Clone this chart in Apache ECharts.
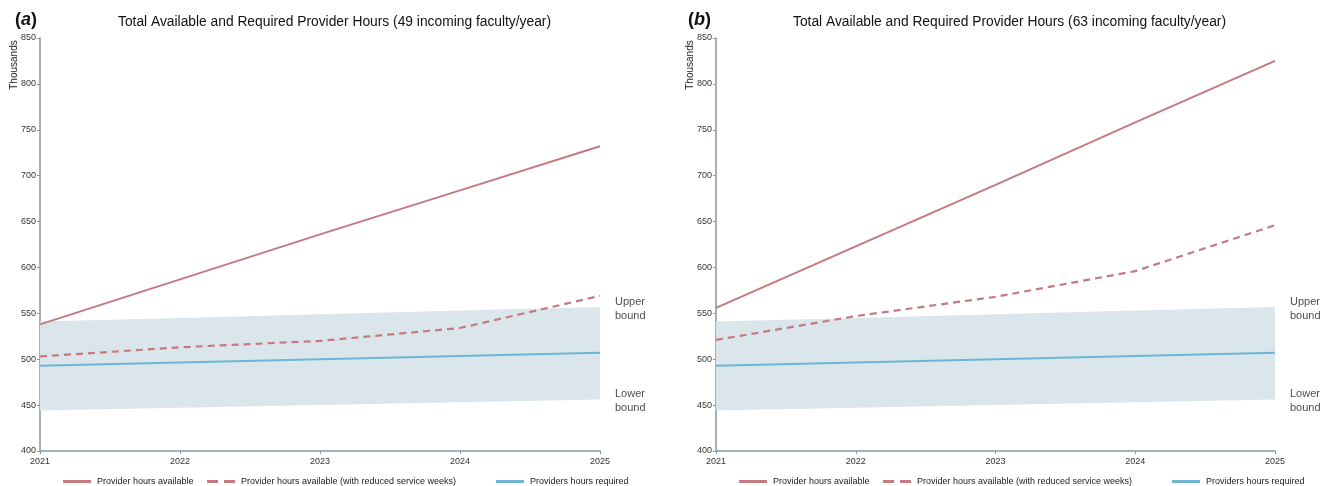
<!DOCTYPE html>
<html><head><meta charset="utf-8">
<script src="https://cdn.jsdelivr.net/npm/echarts@6/dist/echarts.min.js"></script>
<style>html,body{margin:0;padding:0;background:#fff}#c{width:1331px;height:486px}</style>
</head><body><div id="c"></div>
<script>
const years = ['2021','2022','2023','2024','2025'];
const yTicks = [400,450,500,550,600,650,700,750,800,850];
// Panel a (49 incoming faculty/year)
const availA = [538, 587, 636, 684, 732];
const reducedA = [503, 513, 520, 534, 569];
// Panel b (63 incoming faculty/year)
const availB = [556, 623, 690, 758, 825];
const reducedB = [521, 547, 568, 596, 646];
// Shared
const required = [493, 496.5, 500, 503.5, 507];
const lowerBound = [444, 447, 450, 453, 456];
const upperBound = [541, 545, 549, 553, 557];

const RED = '#c47a7e', BLUE = '#6cb6d3', BAND = '#dbe6ec', AXIS = '#8597a8';
const FONT = 'Liberation Sans';
const bandDiff = upperBound.map((u,i)=>+(u-lowerBound[i]).toFixed(2));

function grid(left, right){ return {left, right, top:38, bottom:35, containLabel:false}; }
function xAxis(i){ return {type:'category', gridIndex:i, data:years, boundaryGap:false,
  axisLine:{lineStyle:{color:AXIS,width:1.5}}, axisTick:{show:true, alignWithLabel:true, length:3, lineStyle:{color:AXIS}},
  axisLabel:{color:'#333', fontSize:9, fontFamily:FONT, margin:6}, splitLine:{show:false}}; }
function yAxis(i){ return {type:'value', gridIndex:i, min:yTicks[0], max:yTicks[yTicks.length-1], interval:50,
  axisLine:{show:true, lineStyle:{color:AXIS,width:1.5}}, axisTick:{show:true, length:3, lineStyle:{color:AXIS}},
  axisLabel:{color:'#333', fontSize:9, fontFamily:FONT, margin:4}, splitLine:{show:false}}; }

function panelSeries(i, avail, reduced){
  return [
    {type:'line', name:'lowerBase'+i, xAxisIndex:i, yAxisIndex:i, data:lowerBound, stack:'band'+i, symbol:'none',
      lineStyle:{opacity:0}, silent:true, z:1},
    {type:'line', name:'band'+i, xAxisIndex:i, yAxisIndex:i, data:bandDiff, stack:'band'+i, symbol:'none',
      lineStyle:{opacity:0}, areaStyle:{color:BAND, opacity:1}, silent:true, z:1},
    {type:'line', name:'Provider hours available', xAxisIndex:i, yAxisIndex:i, data:avail, symbol:'none',
      lineStyle:{color:RED, width:2}, itemStyle:{color:RED}, z:3},
    {type:'line', name:'Provider hours available (with reduced service weeks)', xAxisIndex:i, yAxisIndex:i, data:reduced, symbol:'none',
      lineStyle:{color:RED, width:2.2, type:[7,5]}, itemStyle:{color:RED}, z:3},
    {type:'line', name:'Providers hours required', xAxisIndex:i, yAxisIndex:i, data:required, symbol:'none',
      lineStyle:{color:BLUE, width:2}, itemStyle:{color:BLUE}, z:3},
    {type:'scatter', name:'bounds'+i, xAxisIndex:i, yAxisIndex:i, symbolSize:0, silent:true,
      data:[
        {value:[years.length-1, upperBound[upperBound.length-1]], label:{formatter:'Upper\nbound', offset:[10,2]}},
        {value:[years.length-1, lowerBound[lowerBound.length-1]], label:{formatter:'Lower\nbound', offset:[10,1]}}
      ],
      label:{show:true, position:'right', color:'#222', fontSize:11, fontFamily:FONT, lineHeight:14, align:'left'}}
  ];
}

const SOLID_ICON = 'path://M0,0h28v3h-28z';
const DASH_ICON = 'path://M0,0h11v3h-11z M17,0h11v3h-11z';
function legendItem(name, left, color, icon){
  return {data:[{name, icon, itemStyle:{color}}], left, top:477, padding:0, itemWidth:30, itemHeight:3, itemGap:4,
    textStyle:{color:'#222', fontSize:9, fontFamily:FONT}, selectedMode:false};
}

const titleRich = {p:{fontSize:18, fontFamily:FONT, color:'#111'}, b:{fontSize:18, fontFamily:FONT, fontWeight:'bold', fontStyle:'italic', color:'#111'}};
const titleStyle = {fontSize:13.8, fontWeight:'normal', color:'#111', fontFamily:FONT};

const option = {
  animation:false,
  backgroundColor:'#fff',
  title:[
    {text:'{p|(}{b|a}{p|)}', left:10, top:6, textStyle:{rich:titleRich}},
    {text:'Total Available and Required Provider Hours (49 incoming faculty/year)', left:113, top:10, textStyle:titleStyle},
    {text:'{p|(}{b|b}{p|)}', left:683, top:6, textStyle:{rich:titleRich}},
    {text:'Total Available and Required Provider Hours (63 incoming faculty/year)', left:788, top:10, textStyle:titleStyle}
  ],
  grid:[grid(40,731), grid(716,56)],
  xAxis:[xAxis(0), xAxis(1)],
  yAxis:[yAxis(0), yAxis(1)],
  legend:[
    legendItem('Provider hours available', 63, RED, SOLID_ICON),
    legendItem('Provider hours available (with reduced service weeks)', 207, RED, DASH_ICON),
    legendItem('Providers hours required', 496, BLUE, SOLID_ICON),
    legendItem('Provider hours available', 739, RED, SOLID_ICON),
    legendItem('Provider hours available (with reduced service weeks)', 883, RED, DASH_ICON),
    legendItem('Providers hours required', 1172, BLUE, SOLID_ICON)
  ],
  graphic:[
    {type:'text', x:14, y:65, rotation:Math.PI/2, style:{text:'Thousands', fontSize:10, fontFamily:FONT, fill:'#222', align:'center', verticalAlign:'middle'}},
    {type:'text', x:690, y:65, rotation:Math.PI/2, style:{text:'Thousands', fontSize:10, fontFamily:FONT, fill:'#222', align:'center', verticalAlign:'middle'}}
  ],
  series:[...panelSeries(0, availA, reducedA), ...panelSeries(1, availB, reducedB)]
};
const chart = echarts.init(document.getElementById('c'), null, {renderer:'canvas'});
chart.setOption(option);
</script></body></html>
